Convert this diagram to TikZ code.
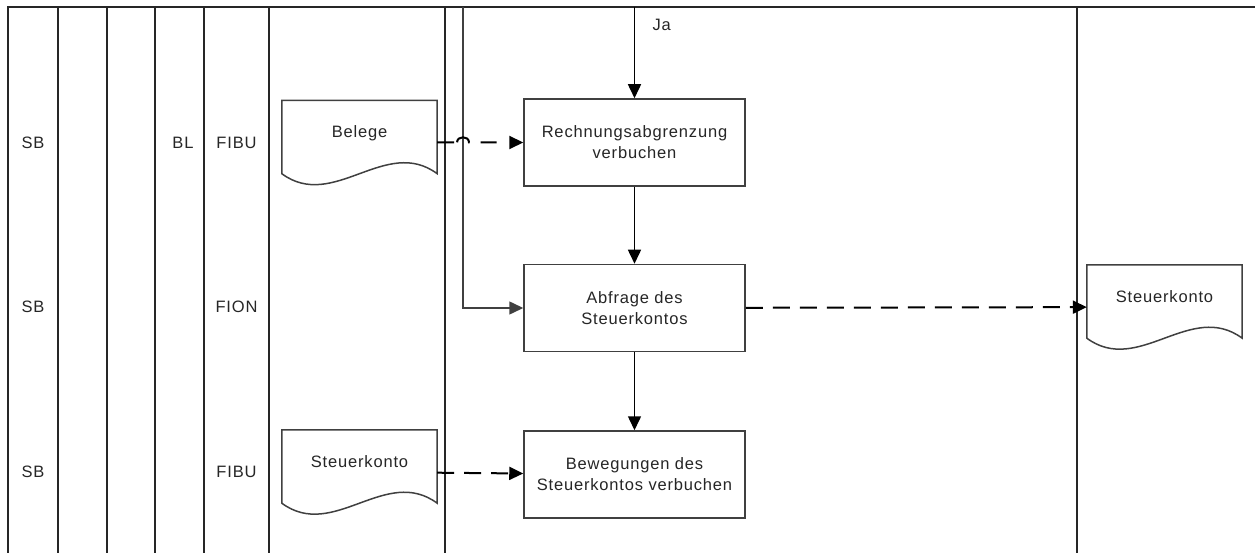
\documentclass[tikz,border=0pt]{standalone}
\usepackage{fontspec}
\setmainfont{Liberation Sans}[LetterSpace=5]
\usepackage{tikz}
\usetikzlibrary{arrows.meta,positioning}
\definecolor{ink}{HTML}{262626}
\newcommand{\docframe}[1]{\draw[docline] (#1.north west) -- (#1.north east) -- ([yshift=11pt]#1.south east) .. controls ([shift={(-51.7pt,49pt)}]#1.south east) and ([shift={(51.7pt,-27pt)}]#1.south west) .. ([yshift=11pt]#1.south west) -- cycle;}

\begin{document}
\begin{tikzpicture}[x=1pt, y=-1pt, every node/.style={font=\fontsize{16.5}{21}\selectfont, text=ink},
  lane/.style={line width=2pt, draw=black!85},
  proc/.style={draw=black!75, line width=1.5pt, fill=white, align=center, minimum width=221pt, minimum height=87pt, inner sep=2pt},
  doc/.style={minimum width=155pt, minimum height=84pt, inner sep=0pt, text height=12pt, text depth=22pt},
  docline/.style={draw=black!75, line width=1.5pt},
  arr/.style={-{Triangle[length=14pt, width=13pt]}, line width=1.5pt},
  flow/.style={arr, line width=2pt, dash pattern=on 17pt off 10pt}]
\useasboundingbox (0,0) rectangle (1255,553);
% swimlanes
\draw[lane] (8,553) -- (8,7) -- (1255,7);
\foreach \x in {58,107,155,204,269} \draw[lane] (\x,7) -- (\x,553);
\draw[lane, line width=2.6pt] (445,7) -- (445,553);
\draw[lane] (1077,7) -- (1077,553);
% lane labels
\foreach \y/\r in {142.5/1,307/2,472/3} \node (sb\r) at (33,\y) {SB};
\node (bl) at (183,142.5) {BL};
\node (fibu1) at (236.5,142.5) {FIBU};
\node (fion) at (236.5,307) {FION};
\node (fibu2) at (236.5,472) {FIBU};
% steps
\node[proc] (abgrenzung) at (634.5,142.5) {Rechnungsabgrenzung\\verbuchen};
\node[proc, below=77pt of abgrenzung] (abfrage) {Abfrage des\\Steuerkontos};
\node[proc, below=78pt of abfrage] (bewegungen) {Bewegungen des\\Steuerkontos verbuchen};
% documents
\node[doc] (belege) at (359.5,142.5) {Belege};
\node[doc] (konto) at (359.5,472) {Steuerkonto};
\node[doc] (kontoR) at (1164.5,307) {Steuerkonto};
\docframe{belege} \docframe{konto} \docframe{kontoR}
% flows
\coordinate (ja) at (634.5,7);
\coordinate (nein) at (463,7);
\draw[arr] (ja) -- node[right=14pt, pos=0.2] (jalabel) {Ja} (abgrenzung);
\draw[arr] (abgrenzung) -- (abfrage); \draw[arr] (abfrage) -- (bewegungen);
\draw[arr, draw=black!75] (nein) |- (abfrage);
\draw[arr, line width=2pt, dash pattern=on 17pt off 3pt on 18pt off 11pt on 16pt off 20pt] (belege.east) -- (457,142.5) .. controls (457,135.5) and (469,135.5) .. (469,142.5) -- (abgrenzung.west);
\draw[flow] (abfrage) -- (kontoR); \draw[flow] (konto) -- (bewegungen);
\end{tikzpicture}
\end{document}
